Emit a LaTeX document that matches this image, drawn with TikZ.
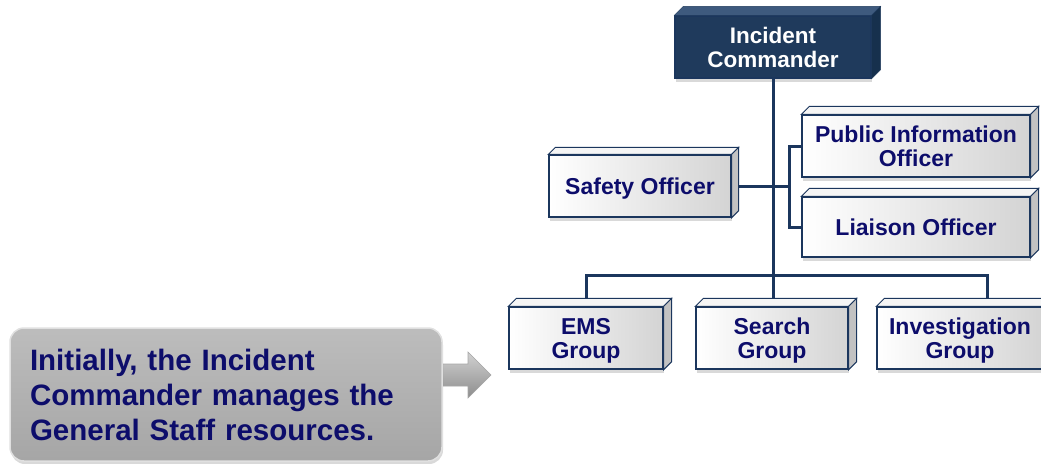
\documentclass[tikz,border=0pt]{standalone}
\usepackage{fontspec}
\setmainfont{Liberation Sans}
\usetikzlibrary{shadows,calc}
\definecolor{navy}{HTML}{1B365D}
\definecolor{txt}{HTML}{0D0D6B}
\definecolor{icfill}{HTML}{1F3A5C}
\definecolor{ictop}{HTML}{3E5A7E}
\definecolor{icside}{HTML}{16304D}
\newcommand\boxfaces[3][]{%
  \path[topf,#1] (#2.north west) -- ++(#3,-#3) -- ([shift={(#3,-#3)}]#2.north east) -- (#2.north east) -- cycle;
  \path[sidef,#1] (#2.north east) -- ([shift={(#3,-#3)}]#2.north east) -- ([shift={(#3,-#3)}]#2.south east) -- (#2.south east) -- cycle;}
\begin{document}
\begin{tikzpicture}[x=1pt,y=-1pt,
  fbox/.style={draw=navy, line width=1.3pt, left color=white, right color=black!17,
    text=txt, font=\fontsize{23}{24}\selectfont\bfseries, align=center, inner sep=0pt,
    text depth=0pt,
    drop shadow={opacity=0.3,shadow xshift=1pt,shadow yshift=-4pt}},
  icbox/.style={fbox, fill=icfill, left color=icfill, right color=icfill, text=white,
    font=\fontsize{22.5}{24}\selectfont\bfseries},
  topf/.style={draw=navy, line width=1pt, fill=black!4},
  sidef/.style={draw=navy, line width=1pt, fill=black!24},
  ictopf/.style={fill=ictop, draw=icfill},
  icsidef/.style={fill=icside, draw=icfill},
  conn/.style={draw=navy, line width=3pt},
  callout/.style={rounded corners=14pt, draw=black!12, line width=1.5pt,
    top color=black!26, bottom color=black!35, text=txt,
    font=\fontsize{29.5}{35}\selectfont\bfseries, align=left,
    inner xsep=20pt, text width=392pt,
    drop shadow={opacity=0.3,shadow xshift=1pt,shadow yshift=-3pt}},
  arrowshape/.style={top color=black!18, bottom color=black!45, draw=black!35, line width=0.6pt},
]
\useasboundingbox (0,0) rectangle (1041,463);

% nodes
\node[icbox, minimum width=196pt, minimum height=62pt] (ic) at (773,47) {Incident\\Commander};
\node[fbox, minimum width=182pt, minimum height=62pt] (so) at (640,186) {Safety Officer};
\node[fbox, minimum width=228pt, minimum height=62pt] (pio) at (916,146) {Public Information\\Officer};
\node[fbox, minimum width=228pt, minimum height=60pt] (lia) at (916,227) {Liaison Officer};
\node[fbox, minimum width=154pt, minimum height=62pt] (ems) at (586,338) {EMS\\Group};
\node[fbox, minimum width=152pt, minimum height=62pt] (search) at (772,338) {Search\\Group};
\node[fbox, minimum width=166pt, minimum height=62pt] (inv) at (960,338) {Investigation\\Group};

\boxfaces[]{so}{7}
\boxfaces[]{pio}{8}
\boxfaces[]{lia}{8}
\boxfaces[]{ems}{8}
\boxfaces[]{search}{8}
\boxfaces[]{inv}{8}
\path[ictopf] (ic.north west) -- ++(9,-9) -- ([shift={(9,-9)}]ic.north east) -- (ic.north east) -- cycle;
\path[icsidef] (ic.north east) -- ([shift={(9,-9)}]ic.north east) -- ([shift={(9,-9)}]ic.south east) -- (ic.south east) -- cycle;

% connectors
\coordinate (bar) at (773,275);
\coordinate (br) at (789,187);
\draw[conn] (ic.south) -- ([yshift=8pt]search.north -| ic.south);
\draw[conn] ([yshift=8pt]ems.north) |- (bar) -| ([xshift=27pt,yshift=8pt]inv.north);
\draw[conn] ([xshift=7pt]so.east) -- (so.east -| br);
\draw[conn] (pio.west) -| (br) |- (lia.west);

% arrow and callout
\coordinate (a0) at (438,364);
\path[arrowshape] (a0) -- ++(30,0) -- ++(0,-12) -- ++(23,23) -- ++(-23,23) -- ++(0,-12) -- ++(-30,0) -- cycle;
\node[callout, minimum height=133pt] (cb) at (226,394.5) {Initially, the Incident\\Commander manages the\\General Staff resources.};
\end{tikzpicture}
\end{document}
